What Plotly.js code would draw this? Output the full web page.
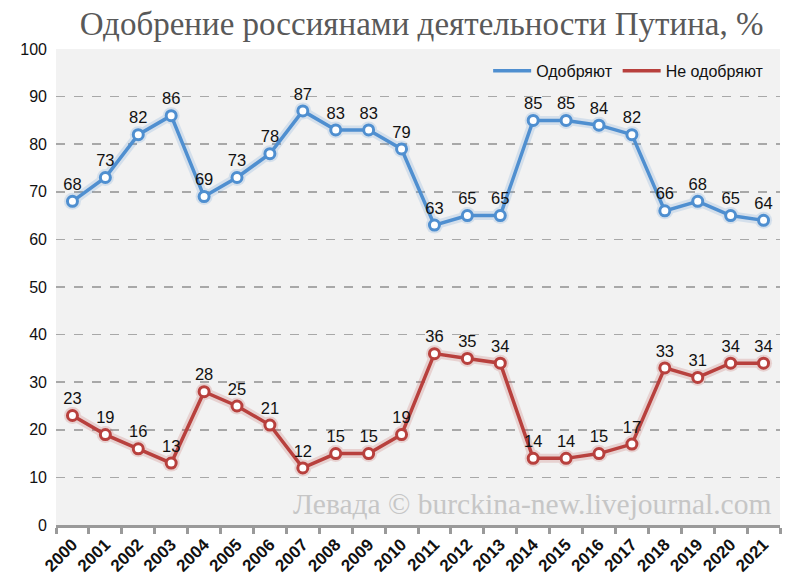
<!DOCTYPE html>
<html>
<head>
<meta charset="utf-8">
<script src="https://cdn.plot.ly/plotly-3.0.1.min.js"></script>
<style>html,body{margin:0;padding:0;background:#fff;}#chart{width:800px;height:587px;}</style>
</head>
<body>
<div id="chart"></div>
<script>
const years = ["2000","2001","2002","2003","2004","2005","2006","2007","2008","2009","2010","2011","2012","2013","2014","2015","2016","2017","2018","2019","2020","2021"];
const approve = [68,73,82,86,69,73,78,87,83,83,79,63,65,65,85,85,84,82,66,68,65,64];
const disapprove = [23,19,16,13,28,25,21,12,15,15,19,36,35,34,14,14,15,17,33,31,34,34];
const yTicks = [0,10,20,30,40,50,60,70,80,90,100];
const seriesNames = ["Одобряют", "Не одобряют"];

const blue = "#4f8fd0";
const red = "#b8403d";

function glow(y, color) {
  return {
    x: years, y: y, type: "scatter", mode: "lines+markers",
    line: {color: color, width: 9}, opacity: 0.18,
    marker: {size: 17, color: color},
    hoverinfo: "skip", showlegend: false
  };
}
function series(y, color) {
  return {
    x: years, y: y, type: "scatter", mode: "lines+markers+text", showlegend: false,
    line: {color: color, width: 3.5},
    marker: {size: 10, color: "#ffffff", line: {color: color, width: 3}},
    text: y.map(String), textposition: "top center",
    textfont: {family: "Liberation Sans, Arial, sans-serif", size: 16.5, color: "#111"},
    cliponaxis: false
  };
}
function legendItem(name, color) {
  return {x: [null], y: [null], type: "scatter", mode: "lines", name: name,
    line: {color: color, width: 3.5}, showlegend: true};
}

const data = [glow(approve, blue), glow(disapprove, red), series(approve, blue), series(disapprove, red),
  legendItem(seriesNames[0], blue), legendItem(seriesNames[1], red)];

const layout = {
  width: 800, height: 587,
  margin: {l: 56, r: 20, t: 49, b: 62, autoexpand: false},
  paper_bgcolor: "#ffffff",
  plot_bgcolor: "#f2f2f2",
  title: {
    text: "Одобрение россиянами деятельности Путина, %",
    font: {family: "Liberation Serif, DejaVu Serif, serif", size: 33, color: "#595959"},
    x: 0.527, xanchor: "center", y: 0.96, yanchor: "middle"
  },
  xaxis: {
    type: "category", range: [-0.5, 21.5], automargin: false,
    tickson: "boundaries", ticks: "outside", ticklen: 6, tickwidth: 3, tickcolor: "#9a9a9a",
    showline: true, linecolor: "#9a9a9a", linewidth: 3,
    showgrid: false, tickangle: -45,
    tickfont: {family: "Liberation Sans, Arial, sans-serif", size: 17, color: "#111", weight: "bold"}
  },
  yaxis: {
    range: [0, 100], tickvals: yTicks, ticktext: yTicks.map(String), automargin: false,
    showgrid: true, gridcolor: "#a8a8a8", gridwidth: 1.5, griddash: "dash",
    zeroline: false, showline: false, ticks: "",
    tickfont: {family: "Liberation Sans, Arial, sans-serif", size: 16, color: "#111"},
    ticklabelstandoff: 8
  },
  showlegend: true,
  legend: {
    orientation: "h", x: 0.985, xanchor: "right", y: 0.99, yanchor: "top",
    bgcolor: "rgba(0,0,0,0)",
    font: {family: "Liberation Sans, Arial, sans-serif", size: 16, color: "#111"},
    traceorder: "normal", itemwidth: 38
  },
  annotations: [{
    text: "Левада © burckina-new.livejournal.com",
    xref: "paper", yref: "paper", x: 0.99, y: 0.045, xanchor: "right", yanchor: "middle",
    showarrow: false,
    font: {family: "Liberation Serif, DejaVu Serif, serif", size: 29.5, color: "#c6c6c6"}
  }]
};

Plotly.newPlot("chart", data, layout, {displayModeBar: false, staticPlot: true});
</script>
</body>
</html>
